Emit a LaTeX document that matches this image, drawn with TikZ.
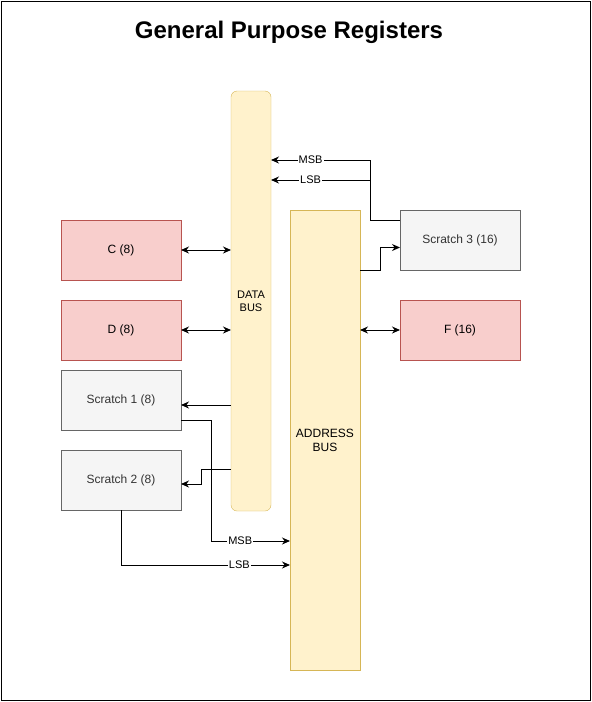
\documentclass[tikz,border=0pt]{standalone}
\usepackage{fontspec}
\setmainfont{Liberation Sans}
\usetikzlibrary{arrows.meta, positioning}

\definecolor{regfill}{HTML}{F8CECC}
\definecolor{regline}{HTML}{B85450}
\definecolor{scrfill}{HTML}{F5F5F5}
\definecolor{scrline}{HTML}{666666}
\definecolor{scrtext}{HTML}{333333}
\definecolor{busfill}{HTML}{FFF2CC}
\definecolor{busline}{HTML}{D6B656}

\begin{document}
\begin{tikzpicture}[
  x=1pt, y=-1pt,
  reg/.style={draw=regline, fill=regfill, minimum width=120pt, minimum height=60pt, inner sep=0pt, outer sep=0pt, font=\fontsize{12}{14}\selectfont},
  scratch/.style={reg, draw=scrline, fill=scrfill, text=scrtext},
  bus/.style={draw=busline, fill=busfill, inner sep=0pt, outer sep=0pt, align=center},
  line/.style={-{Stealth[length=8pt, width=7pt]}, line width=1pt},
  biline/.style={line, {Stealth[length=8pt, width=7pt]}-{Stealth[length=8pt, width=7pt]}},
  tag/.style={fill=white, inner sep=1pt, font=\fontsize{11}{13}\selectfont}
]
\useasboundingbox (0,0) rectangle (592,702);
\draw[line width=1pt] (1,1) rectangle (590,700);
\node[font=\bfseries\fontsize{24}{28}\selectfont, anchor=base] (title) at (289,38) {General Purpose Registers};

% buses
\node[bus, rounded corners=6pt, minimum width=40pt, minimum height=420pt, font=\fontsize{11}{13}\selectfont] (dbus) at (251,301) {DATA\\BUS};
\node[bus, minimum width=70pt, minimum height=460pt, font=\fontsize{12}{14}\selectfont] (abus) at (325,440) {ADDRESS\\BUS};

% registers
\node[reg] (c) at (121,250) {C (8)};
\node[reg, below=20pt of c] (d) {D (8)};
\node[scratch, below=10pt of d] (s1) {Scratch 1 (8)};
\node[scratch, below=20pt of s1] (s2) {Scratch 2 (8)};
\node[scratch] (s3) at (460,240) {Scratch 3 (16)};
\node[reg, below=30pt of s3] (f) {F (16)};

\coordinate (msb1) at (211,541);
\coordinate (lsb2) at (121,565);
\coordinate (msb3) at (370,160);
\coordinate (lsb3) at (370,180);

\draw[biline] (c) -- (c -| dbus.west);
\draw[biline] (d) -- (d -| dbus.west);
\draw[line] ([yshift=-5pt]s1.east -| dbus.west) -- ([yshift=-5pt]s1.east);
\draw[line] ([yshift=11pt]s2.east -| dbus.west) -- ++(-30,0) |- ([yshift=-4pt]s2.east);

\draw[line] ([yshift=-20pt]s1.east) -| (msb1) -- (msb1 -| abus.west) node[tag, pos=0.37] {MSB};
\draw[line] (s2.south) -- (lsb2) -- (lsb2 -| abus.west) node[tag, pos=0.7] {LSB};

\draw[line] ([yshift=20pt]s3.west) -| (msb3) -- (msb3 -| dbus.east) node[tag, pos=0.6] {MSB};
\draw[line] (lsb3) -- (lsb3 -| dbus.east) node[tag, pos=0.6] {LSB};
\draw[line] (abus.east |- s3.south) -- ++(20,0) |- ([yshift=-7.5pt]s3.west);
\draw[biline] (f -| abus.east) -- (f);
\end{tikzpicture}
\end{document}
